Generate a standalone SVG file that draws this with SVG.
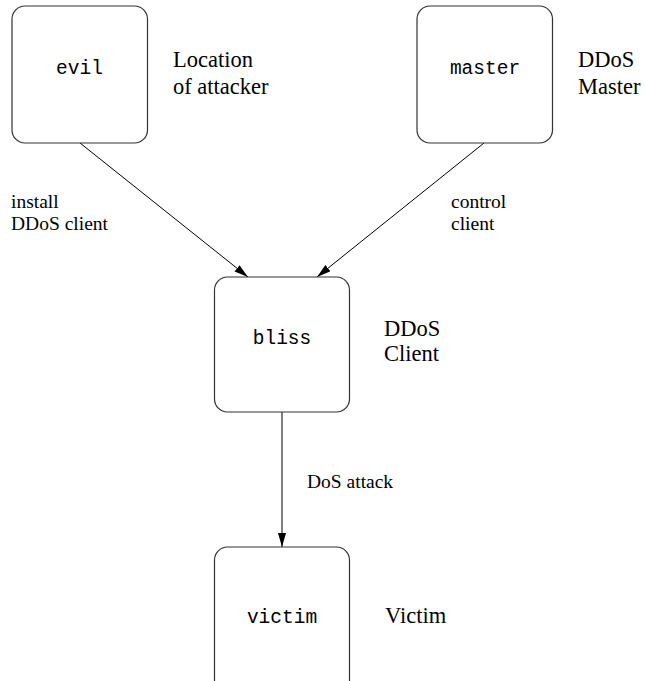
<svg xmlns="http://www.w3.org/2000/svg" width="645" height="681" viewBox="0 0 645 681">
<style>
.box{fill:#fff;stroke:#333;stroke-width:1.2}
.mono{font-size:19.5px;fill:#000;text-anchor:middle}
.ann{font-size:22.5px;fill:#000}
.lbl{font-size:19.5px;fill:#000}
.edge{stroke:#000;stroke-width:1;fill:none;marker-end:url(#ah)}
</style>
<defs>
<marker id="ah" markerUnits="userSpaceOnUse" markerWidth="16" markerHeight="10" refX="14" refY="4" orient="auto">
<path d="M0,0 L14,4 L0,8 Z" fill="#000"/>
</marker>
</defs>
<rect width="645" height="681" fill="#fff"/>
<g id="connectors" font-family="'Liberation Serif', 'Times New Roman', Times, serif">
<line class="edge" x1="80" y1="143" x2="248" y2="277"/>
<line class="edge" x1="484" y1="143" x2="317" y2="277"/>
<line class="edge" x1="282" y1="412" x2="282" y2="547"/>
<text class="lbl" x="11" y="208">install</text>
<text class="lbl" x="11" y="230">DDoS client</text>
<text class="lbl" x="451" y="208">control</text>
<text class="lbl" x="451" y="230">client</text>
<text class="lbl" x="307" y="488">DoS attack</text>
</g>
<g id="evil" font-family="'Liberation Serif', 'Times New Roman', Times, serif">
<rect class="box" x="12" y="6" width="135.5" height="137" rx="13"/>
<text class="mono" font-family="'Liberation Mono', 'Courier New', Courier, monospace" x="79.5" y="74">evil</text>
<text class="ann" x="173" y="67">Location</text>
<text class="ann" x="173" y="94">of attacker</text>
</g>
<g id="master" font-family="'Liberation Serif', 'Times New Roman', Times, serif">
<rect class="box" x="417" y="6" width="135.5" height="137" rx="13"/>
<text class="mono" font-family="'Liberation Mono', 'Courier New', Courier, monospace" x="485" y="74">master</text>
<text class="ann" x="578" y="67">DDoS</text>
<text class="ann" x="578" y="94">Master</text>
</g>
<g id="bliss" font-family="'Liberation Serif', 'Times New Roman', Times, serif">
<rect class="box" x="214.5" y="277" width="135" height="135" rx="13"/>
<text class="mono" font-family="'Liberation Mono', 'Courier New', Courier, monospace" x="282" y="344">bliss</text>
<text class="ann" x="384" y="336">DDoS</text>
<text class="ann" x="384" y="361">Client</text>
</g>
<g id="victim" font-family="'Liberation Serif', 'Times New Roman', Times, serif">
<rect class="box" x="214.5" y="547" width="135" height="150" rx="13"/>
<text class="mono" font-family="'Liberation Mono', 'Courier New', Courier, monospace" x="282" y="623">victim</text>
<text class="ann" x="385" y="623">Victim</text>
</g>
</svg>
